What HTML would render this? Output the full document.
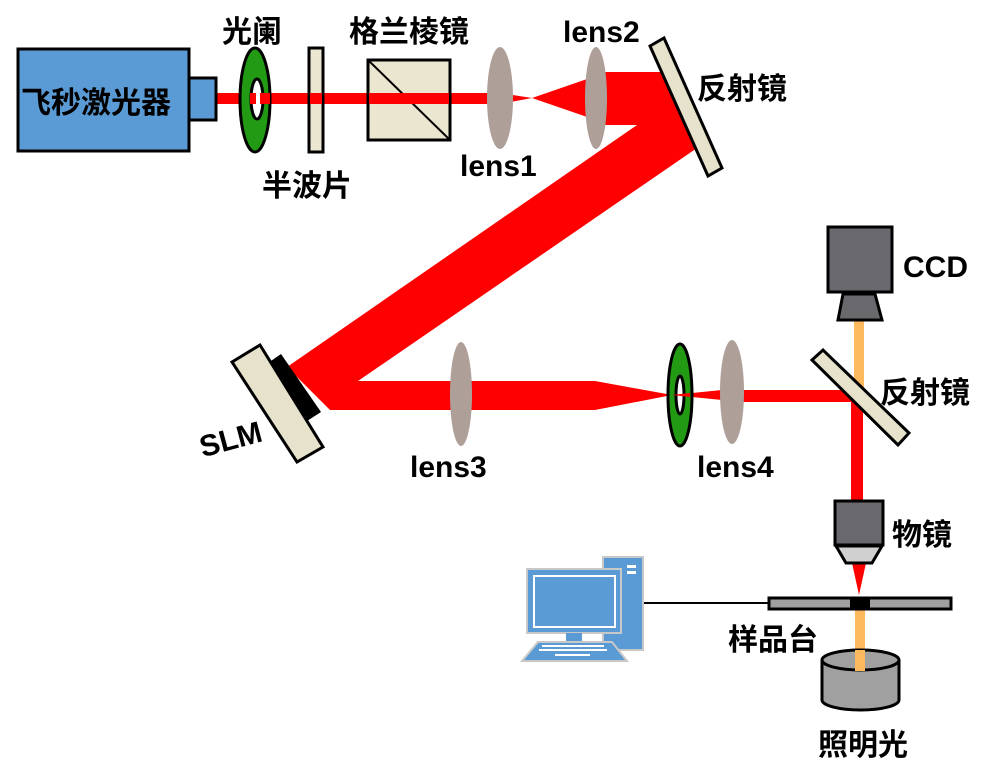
<!DOCTYPE html>
<html><head><meta charset="utf-8"><style>
html,body{margin:0;padding:0;background:#fff;}
svg text{font-family:"Liberation Sans","Noto Sans CJK SC",sans-serif;font-weight:bold;font-size:30px;fill:#000;}
</style></head><body>
<svg width="993" height="779" viewBox="0 0 993 779" xmlns="http://www.w3.org/2000/svg">
<!-- beams -->
<rect x="214" y="93" width="290" height="11" fill="#ff0000"/>
<polygon points="500,93 532,98 500,104" fill="#ff0000"/>
<polygon points="532,98 590,78 590,118" fill="#ff0000"/>
<polygon points="596,72 668,72 697,148 358,381 595,381 672,395 595,410 330,410 287,367 637,125 596,125" fill="#ff0000"/>
<polygon points="672,395 732,389 732,401" fill="#ff0000"/>
<rect x="732" y="390" width="128" height="12" fill="#ff0000"/>
<rect x="851" y="392" width="12" height="110" fill="#ff0000"/>
<rect x="854" y="320" width="10" height="72" fill="#fdb95d"/>
<rect x="855" y="609" width="10" height="62" fill="#fdb95d"/>
<polygon points="852,563 866,563 859,595" fill="#ff0000"/>
<!-- laser -->
<rect x="18" y="49" width="171" height="102" fill="#5b9bd5" stroke="#000" stroke-width="3"/>
<rect x="189" y="78" width="27" height="42" fill="#5b9bd5" stroke="#000" stroke-width="3"/>
<text x="21" y="113" font-size="31">飞秒激光器</text>
<!-- iris1 -->
<ellipse cx="255" cy="100" rx="15" ry="52" fill="#229a14" stroke="#000" stroke-width="3"/>
<ellipse cx="257" cy="99" rx="6" ry="20" fill="#fff" stroke="#000" stroke-width="3"/>
<rect x="250" y="93" width="6" height="11" fill="#ff0000"/>
<rect x="260" y="93" width="10" height="11" fill="#ff0000"/>
<!-- half wave -->
<rect x="309" y="48" width="14" height="104" fill="#ebe6d0" stroke="#000" stroke-width="3"/>
<rect x="310" y="93" width="12" height="11" fill="#ff0000"/>
<!-- cube -->
<rect x="368" y="60" width="82" height="80" fill="#ebe6d0" stroke="#000" stroke-width="3"/>
<line x1="368" y1="60" x2="450" y2="140" stroke="#000" stroke-width="2"/>
<rect x="369" y="93" width="80" height="11" fill="#ff0000"/>
<!-- lenses -->
<ellipse cx="500" cy="98" rx="13" ry="51" fill="#ae9f98"/>
<ellipse cx="596" cy="98" rx="11" ry="51" fill="#ae9f98"/>
<ellipse cx="461" cy="394" rx="11" ry="52" fill="#ae9f98"/>
<ellipse cx="732" cy="392" rx="12" ry="52" fill="#ae9f98"/>
<!-- mirror1 -->
<polygon points="650,46 664,38 722,168 708,176" fill="#e6e2cc" stroke="#000" stroke-width="3"/>
<!-- SLM -->
<polygon points="268,363 281,354 321,412 307,421" fill="#000"/>
<polygon points="232,362 260,345 323,447 297,462" fill="#e6e2cc" stroke="#000" stroke-width="3"/>
<!-- iris2 -->
<ellipse cx="680" cy="395" rx="12" ry="51" fill="#229a14" stroke="#000" stroke-width="3"/>
<ellipse cx="680" cy="395" rx="4" ry="19" fill="#fff" stroke="#000" stroke-width="3"/>
<polygon points="672,395 690,393 690,397" fill="#ff0000"/>
<!-- mirror2 -->
<polygon points="812,360 823,350 909,433 898,445" fill="#e6e2cc" stroke="#000" stroke-width="3"/>
<!-- CCD -->
<rect x="828" y="227" width="64" height="65" fill="#68686d" stroke="#000" stroke-width="3"/>
<polygon points="843,294 875,294 882,320 838,320" fill="#68686d" stroke="#000" stroke-width="3"/>
<!-- objective -->
<rect x="835" y="501" width="48" height="44" fill="#68686d" stroke="#000" stroke-width="3"/>
<polygon points="836,546 882,546 872,563 846,563" fill="#d0d0d0" stroke="#000" stroke-width="3"/>
<!-- stage -->
<rect x="769" y="598" width="182" height="11" fill="#a0a0a0" stroke="#000" stroke-width="3"/>
<rect x="850" y="597" width="20" height="13" fill="#000"/>
<line x1="643" y1="603" x2="769" y2="603" stroke="#000" stroke-width="2"/>
<!-- illumination -->
<path d="M822,660 L822,700 A38.5,10 0 0 0 899,700 L899,660" fill="#a0a0a0" stroke="#000" stroke-width="3"/>
<ellipse cx="860.5" cy="660" rx="38.5" ry="10" fill="#a0a0a0" stroke="#000" stroke-width="3"/>
<rect x="855" y="650" width="10" height="21" fill="#fdb95d"/>
<!-- computer -->
<rect x="603" y="557" width="40" height="93" fill="#5b9bd5" stroke="#c8c8c8" stroke-width="2"/>
<rect x="627" y="565" width="9" height="3" fill="#fff"/><rect x="627" y="571" width="9" height="3" fill="#fff"/>
<rect x="527" y="569" width="94" height="64" fill="#5b9bd5" stroke="#c8c8c8" stroke-width="2"/>
<rect x="534" y="576" width="81" height="51" fill="#5b9bd5" stroke="#fff" stroke-width="2"/>
<rect x="566" y="633" width="16" height="9" fill="#5b9bd5"/>
<polygon points="538,642 612,642 627,661 522,661" fill="#5b9bd5" stroke="#c8c8c8" stroke-width="2"/>
<g fill="#fff"><rect x="542" y="645" width="62" height="2"/><rect x="539" y="649" width="68" height="2"/><rect x="555" y="654" width="35" height="2"/></g>
<!-- labels -->
<text x="222" y="42">光阑</text>
<text x="349" y="42">格兰棱镜</text>
<text x="563" y="42">lens2</text>
<text x="697" y="99">反射镜</text>
<text x="262" y="196">半波片</text>
<text x="460" y="176">lens1</text>
<text x="903" y="277">CCD</text>
<text x="880" y="403">反射镜</text>
<text x="697" y="477">lens4</text>
<text x="410" y="477">lens3</text>
<text x="198" y="449" transform="rotate(-15 232 435)">SLM</text>
<text x="892" y="545">物镜</text>
<text x="728" y="650">样品台</text>
<text x="818" y="755">照明光</text>
</svg>
</body></html>
